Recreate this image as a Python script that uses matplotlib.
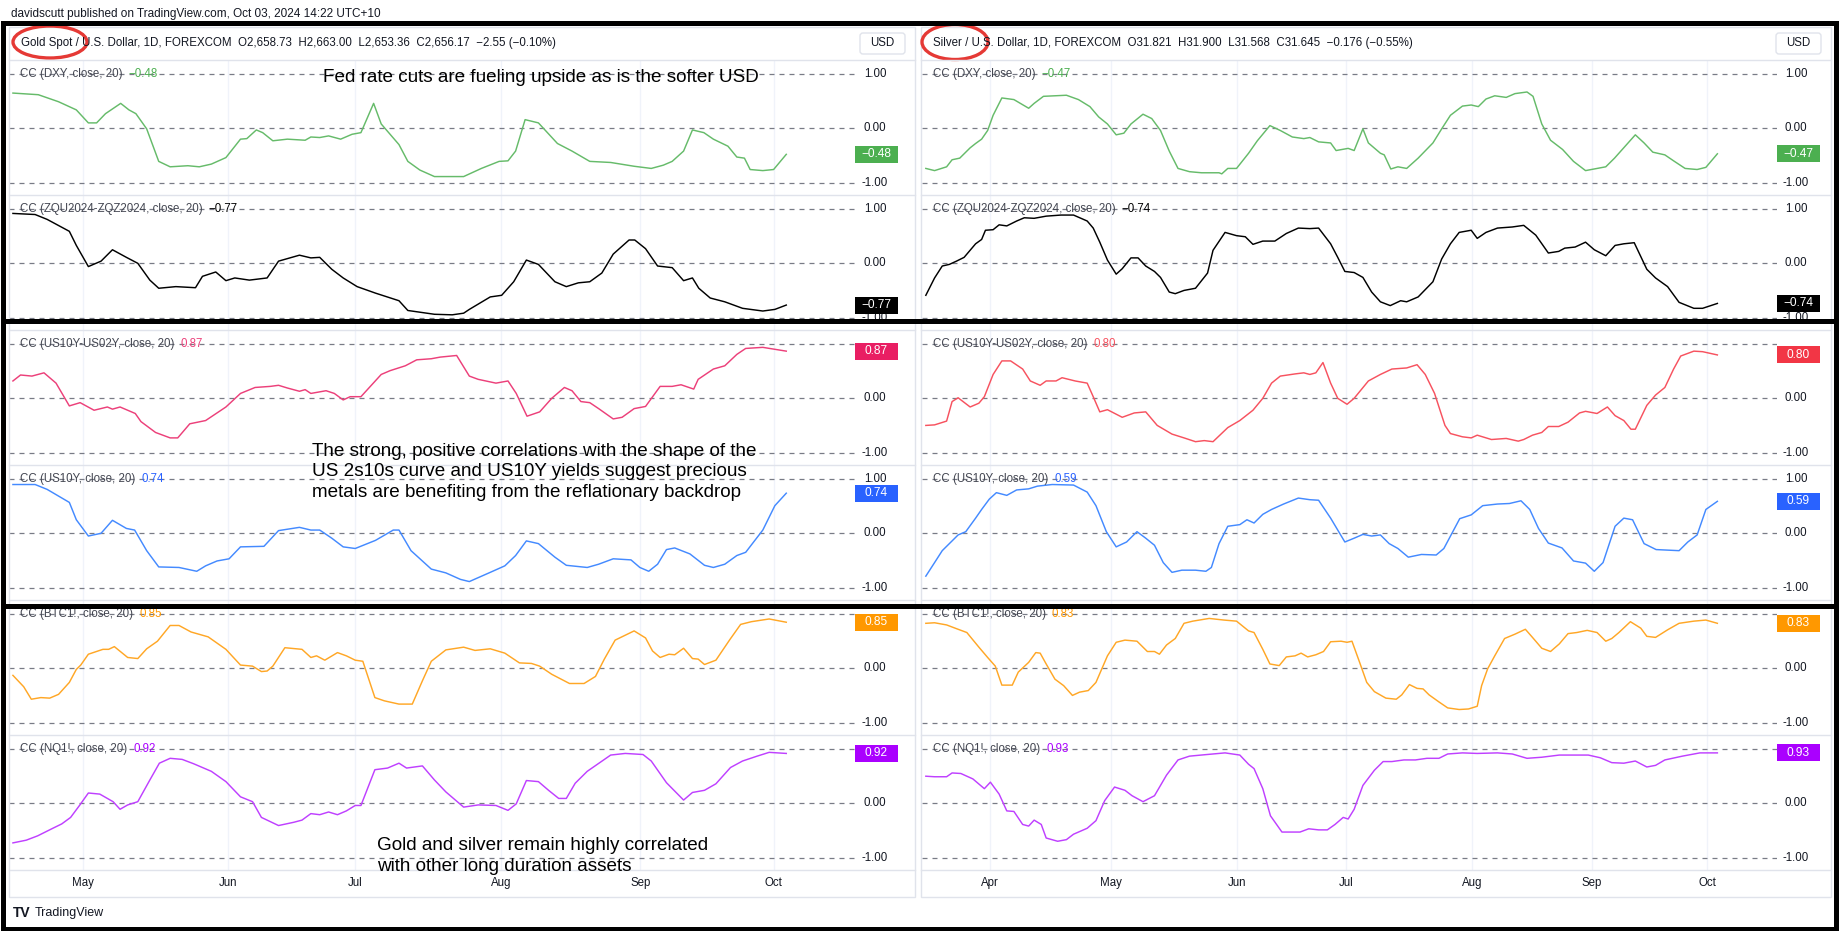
import numpy as np
import pandas as pd
import matplotlib.pyplot as plt
from matplotlib.patches import Rectangle, Ellipse, FancyBboxPatch
from matplotlib.transforms import blended_transform_factory

plt.rcParams['font.family'] = ['Liberation Sans', 'DejaVu Sans']

W, H = 1839, 931

# ---- data: (session index, correlation) ----
gold_dxy = [(0, 0.65), (4, 0.62), (7.2, 0.49), (10, 0.34), (11.9, 0.10), (13.2, 0.10), (14.6, 0.27), (17, 0.46),
            (18.3, 0.34), (19.4, 0.27), (21.1, -0.01), (23, -0.61), (24.8, -0.71), (27.6, -0.69), (29.4, -0.71),
            (31.3, -0.66), (33.6, -0.54), (35.9, -0.20), (36.9, -0.19), (38.4, -0.03), (39.4, -0.08), (41, -0.23),
            (43.3, -0.20), (46.1, -0.22), (47, -0.16), (48.4, -0.17), (49.8, -0.14), (51.7, -0.20), (53.5, -0.11),
            (54.9, -0.08), (56.9, 0.46), (58.1, 0.08), (60.9, -0.30), (62.3, -0.61), (64.2, -0.77), (66.5, -0.89),
            (68.3, -0.89), (71.1, -0.89), (73.9, -0.74), (76.7, -0.61), (78.1, -0.60), (79.3, -0.42), (80.8, 0.16),
            (82.9, 0.10), (85.9, -0.28), (88.2, -0.42), (91, -0.61), (94.3, -0.63), (98, -0.70), (100.7, -0.74),
            (102.6, -0.68), (104, -0.61), (105.8, -0.42), (107.2, -0.03), (109, -0.08), (110.5, -0.20),
            (112.8, -0.33), (114.2, -0.53), (115.4, -0.55), (116.3, -0.76), (118.3, -0.78), (120, -0.76), (122, -0.48)]
gold_zq = [(0, 0.92), (3.5, 0.90), (5.4, 0.81), (8.9, 0.59), (10, 0.33), (11.9, -0.06), (13.9, 0.04), (15.7, 0.25),
           (17.9, 0.11), (19.7, 0.00), (21.6, -0.31), (23, -0.46), (25.7, -0.43), (28.8, -0.45), (29.9, -0.24),
           (32, -0.16), (33.6, -0.32), (35, -0.27), (37.3, -0.31), (40.1, -0.27), (41.9, 0.04), (45.2, 0.15),
           (47, 0.10), (48.4, 0.11), (50.3, -0.11), (52.1, -0.27), (54.3, -0.43), (57.2, -0.55), (60.9, -0.69),
           (62.3, -0.87), (66.5, -0.94), (69.3, -0.95), (71.1, -0.92), (72, -0.85), (75.3, -0.62), (77.1, -0.59),
           (79, -0.34), (81, 0.06), (82.9, -0.02), (85.5, -0.34), (87.3, -0.43), (89.2, -0.36), (91, -0.34),
           (92.9, -0.18), (94.7, 0.17), (97.2, 0.43), (98.1, 0.43), (99.8, 0.27), (101.7, -0.05), (104, -0.08),
           (105.8, -0.32), (107.2, -0.27), (108.2, -0.46), (110, -0.64), (112.3, -0.71), (115.1, -0.83),
           (118.3, -0.88), (120.2, -0.85), (122, -0.77)]
gold_curve = [(0, 0.32), (1.2, 0.43), (3, 0.41), (4.9, 0.47), (6.8, 0.28), (8.9, -0.14), (10.6, -0.08), (12.8, -0.22),
              (14.9, -0.16), (15.7, -0.20), (16.9, -0.16), (19.3, -0.28), (20.2, -0.43), (22.5, -0.63), (24.8, -0.73),
              (26, -0.73), (27.9, -0.47), (30.4, -0.41), (33.6, -0.16), (35.9, 0.09), (38.2, 0.20), (40.6, 0.22),
              (41.9, 0.24), (43.3, 0.19), (45.2, 0.13), (46.1, 0.16), (47, 0.09), (49.4, 0.14), (50.7, 0.09),
              (52.1, -0.03), (53.2, 0.03), (54.9, 0.03), (58.1, 0.44), (59.5, 0.51), (61.9, 0.60), (63.7, 0.71),
              (66, 0.73), (67.4, 0.76), (70, 0.79), (72, 0.41), (73.4, 0.35), (76.2, 0.28), (78.1, 0.32), (79.4, 0.09),
              (81.1, -0.33), (83.1, -0.25), (85, 0.00), (87, 0.20), (88.2, 0.14), (89.6, -0.06), (91, -0.08),
              (92.4, -0.19), (94.7, -0.38), (96.1, -0.35), (98, -0.19), (99.8, -0.15), (102.1, 0.22), (104, 0.22),
              (105.4, 0.25), (107.4, 0.17), (108.1, 0.35), (110.5, 0.54), (112.3, 0.60), (114.2, 0.81),
              (115.6, 0.92), (118.3, 0.94), (122, 0.87)]
gold_us10y = [(0, 0.90), (3.5, 0.90), (5.4, 0.81), (8.9, 0.57), (10, 0.25), (11.9, -0.05), (13.9, 0.00), (15.7, 0.24),
              (17.9, 0.09), (19.2, 0.06), (21.1, -0.32), (23, -0.62), (26.2, -0.63), (29, -0.70), (30.4, -0.60),
              (32.2, -0.51), (34.1, -0.47), (35.9, -0.25), (39.6, -0.24), (41.9, 0.05), (45.2, 0.11), (47, 0.06),
              (48.4, 0.06), (50.3, -0.09), (52.1, -0.25), (54, -0.28), (57.2, -0.13), (60, 0.06), (60.9, 0.06),
              (62.8, -0.32), (66, -0.66), (68.3, -0.73), (70.6, -0.85), (72, -0.89), (75.3, -0.72), (77.6, -0.60),
              (79.3, -0.41), (81, -0.14), (82.9, -0.19), (85.5, -0.44), (87.3, -0.59), (90.6, -0.63), (92.4, -0.57),
              (94.7, -0.47), (97.5, -0.49), (98.9, -0.63), (100.3, -0.70), (101.7, -0.57), (103.1, -0.30),
              (104.4, -0.27), (106.8, -0.38), (109.1, -0.59), (110.5, -0.63), (112.3, -0.57), (114.2, -0.41),
              (115.6, -0.35), (118.3, 0.06), (120.2, 0.51), (122, 0.74)]
gold_btc = [(0, -0.13), (1.7, -0.34), (2.9, -0.57), (4.4, -0.54), (5.8, -0.55), (7.2, -0.48), (8.9, -0.26), (10, -0.02),
            (10.7, 0.06), (11.9, 0.26), (14.2, 0.35), (15.1, 0.35), (16, 0.40), (18.1, 0.20), (19.7, 0.18), (21.1, 0.36),
            (22.8, 0.50), (24.8, 0.79), (26.2, 0.79), (28.1, 0.67), (30.8, 0.58), (33.6, 0.35), (35.9, 0.06),
            (37.8, 0.04), (39.2, -0.06), (40.1, -0.05), (41, 0.04), (42.9, 0.38), (45.6, 0.35), (47, 0.20),
            (47.9, 0.23), (49.2, 0.15), (51.2, 0.29), (52.6, 0.23), (54, 0.15), (55.2, 0.13), (57.1, -0.54),
            (58.6, -0.60), (60.9, -0.66), (63, -0.66), (64.6, -0.23), (66, 0.13), (68.3, 0.34), (71.1, 0.39),
            (72.9, 0.33), (75.3, 0.36), (77.6, 0.28), (79.9, 0.10), (81.8, 0.09), (83.1, 0.04), (85, -0.11),
            (87.8, -0.28), (90.1, -0.28), (91.9, -0.15), (93.3, 0.17), (95, 0.52), (98, 0.69), (99.8, 0.56),
            (100.9, 0.32), (102.1, 0.20), (103.5, 0.26), (104.4, 0.25), (105.8, 0.37), (107.2, 0.18), (108.1, 0.17),
            (109.1, 0.07), (110.9, 0.15), (113.1, 0.53), (114.8, 0.81), (116.5, 0.86), (119.3, 0.91), (122, 0.85)]
gold_nq = [(0, -0.73), (2.1, -0.68), (3.9, -0.60), (6.3, -0.46), (7.7, -0.38), (9.1, -0.26), (10.5, -0.04), (11.9, 0.19),
           (13.7, 0.17), (15.8, 0.03), (16.9, -0.11), (18.1, -0.03), (19.7, 0.03), (21.6, 0.43), (23.1, 0.74),
           (24.8, 0.83), (26.7, 0.81), (28.5, 0.73), (31.3, 0.59), (33.6, 0.40), (35.9, 0.12), (37.8, 0.03),
           (39.2, -0.26), (41.9, -0.41), (44.3, -0.35), (45.6, -0.31), (47, -0.19), (48.4, -0.21), (49.8, -0.16),
           (51.2, -0.21), (52.6, -0.14), (54, -0.04), (54.9, -0.04), (57.1, 0.62), (59.1, 0.65), (60.9, 0.74),
           (62.1, 0.65), (64.6, 0.69), (66.5, 0.43), (68.3, 0.21), (71.1, -0.07), (73.4, -0.03), (76.2, -0.04),
           (78.1, -0.13), (79.4, -0.01), (81, 0.42), (82.9, 0.40), (84.5, 0.24), (86.1, 0.09), (87.3, 0.09),
           (88.7, 0.37), (90.6, 0.59), (94.3, 0.89), (96.6, 0.92), (99.4, 0.90), (100.7, 0.78), (103.1, 0.38),
           (105.8, 0.06), (107.2, 0.20), (109.1, 0.24), (110.9, 0.36), (113.2, 0.66), (115.1, 0.78), (117.4, 0.87),
           (119.3, 0.94), (122, 0.92)]

silver_dxy = [(0.2, -0.74), (1.8, -0.78), (4, -0.71), (5, -0.58), (6.4, -0.55), (8.3, -0.36), (9.3, -0.28), (10.4, -0.20),
              (11.5, -0.04), (12.5, 0.24), (14.1, 0.56), (16.3, 0.53), (19, 0.37), (20, 0.46), (21.7, 0.59), (25.9, 0.61),
              (28.1, 0.53), (30.2, 0.40), (31.8, 0.21), (33.4, 0.08), (35, -0.12), (36.4, -0.09), (37.7, 0.08),
              (39.9, 0.26), (41.5, 0.18), (43.1, -0.04), (44.7, -0.42), (46.3, -0.74), (48.4, -0.80), (50.6, -0.82),
              (53.8, -0.82), (54.3, -0.84), (55.4, -0.74), (57, -0.74), (59.2, -0.46), (60.8, -0.23), (63.1, 0.05),
              (65, -0.04), (67.2, -0.16), (69.3, -0.19), (70.4, -0.17), (72, -0.25), (74.2, -0.27), (75.2, -0.41),
              (76.3, -0.39), (77.4, -0.37), (78.5, -0.41), (80.1, -0.01), (81.1, -0.27), (83.3, -0.46), (84, -0.49),
              (85.2, -0.75), (86.5, -0.71), (88.1, -0.74), (90.2, -0.55), (92.9, -0.27), (94.5, -0.01), (96.1, 0.24),
              (98.3, 0.41), (99.9, 0.43), (101.2, 0.40), (102.6, 0.54), (104.2, 0.60), (106.3, 0.57), (107.9, 0.64),
              (110.1, 0.67), (111.2, 0.59), (112.8, 0.08), (114.4, -0.22), (116.6, -0.39), (118.6, -0.61),
              (120.8, -0.78), (124.5, -0.71), (126.1, -0.55), (129.9, -0.12), (131.5, -0.27), (133.1, -0.44),
              (135.3, -0.49), (136.9, -0.60), (139, -0.74), (141.2, -0.76), (142.8, -0.72), (144.9, -0.47)]
silver_zq = [(0.2, -0.59), (1.8, -0.27), (3.2, -0.05), (4.5, -0.02), (5.8, 0.04), (7.2, 0.11), (9.3, 0.36), (10.4, 0.44),
             (11.1, 0.61), (12.5, 0.62), (13.6, 0.71), (15, 0.69), (16.8, 0.78), (18.2, 0.84), (20, 0.83), (22.2, 0.87),
             (24.9, 0.89), (27.2, 0.89), (29.7, 0.78), (30.8, 0.65), (32, 0.39), (33.4, 0.06), (35, -0.20), (36.1, -0.10),
             (37.7, 0.10), (39, 0.10), (40.4, -0.05), (42, -0.15), (43.1, -0.26), (44.7, -0.53), (45.8, -0.56),
             (47.4, -0.50), (49.5, -0.46), (51.7, -0.18), (52.7, 0.24), (54.9, 0.57), (57, 0.51), (58.6, 0.49),
             (60, 0.35), (61.8, 0.41), (64, 0.41), (66.1, 0.55), (68.3, 0.65), (70.4, 0.64), (72, 0.65), (74.2, 0.36),
             (75.5, 0.11), (76.8, -0.15), (78.5, -0.17), (80.1, -0.26), (81.7, -0.53), (83.3, -0.71), (85.1, -0.78),
             (87, -0.69), (88.1, -0.71), (90.2, -0.62), (92.9, -0.34), (94.5, 0.08), (96.1, 0.36), (97.7, 0.57),
             (99.9, 0.61), (101, 0.46), (102.6, 0.57), (104.7, 0.65), (107.4, 0.67), (109.5, 0.70), (111.7, 0.52),
             (114, 0.19), (115.9, 0.22), (117, 0.28), (118.9, 0.30), (120.8, 0.39), (122.4, 0.25), (124.5, 0.14),
             (126.2, 0.33), (127.8, 0.36), (129.7, 0.38), (132, -0.11), (133.6, -0.27), (135.8, -0.43), (137.9, -0.72),
             (140.6, -0.83), (142.2, -0.83), (144.9, -0.74)]
silver_curve = [(0.2, -0.50), (1.8, -0.49), (4, -0.42), (5, -0.06), (6.1, 0.01), (8.3, -0.16), (9.9, -0.09), (10.9, 0.03),
                (12.5, 0.44), (14.1, 0.69), (15.7, 0.69), (17.9, 0.54), (19.3, 0.32), (21.1, 0.24), (22.2, 0.32),
                (24, 0.32), (25.1, 0.38), (27.5, 0.32), (29.7, 0.28), (30.8, 0.03), (32, -0.25), (33.4, -0.21),
                (36.1, -0.35), (38.3, -0.27), (40.4, -0.25), (42.5, -0.50), (45.2, -0.66), (47.4, -0.73), (49.5, -0.80),
                (51.1, -0.78), (52.7, -0.80), (55.4, -0.54), (57.6, -0.41), (60, -0.22), (61.8, 0.00), (63.4, 0.28),
                (65, 0.41), (67.7, 0.45), (69.3, 0.47), (70.4, 0.44), (71.5, 0.47), (72.8, 0.66), (74.2, 0.28),
                (75.5, 0.00), (77.2, -0.11), (78.5, 0.00), (81.1, 0.32), (83.3, 0.44), (85.4, 0.54), (88.1, 0.56),
                (90, 0.62), (91.5, 0.44), (93.2, 0.09), (95.1, -0.50), (96.1, -0.65), (98.3, -0.71), (99.9, -0.73),
                (101, -0.68), (103.6, -0.76), (106.3, -0.74), (108.5, -0.79), (109.5, -0.76), (111.1, -0.68),
                (112.8, -0.63), (114, -0.52), (115.9, -0.52), (117.6, -0.44), (119.7, -0.27), (120.8, -0.24),
                (122.9, -0.28), (124.8, -0.16), (126.2, -0.32), (127.8, -0.41), (129.1, -0.57), (129.9, -0.57),
                (132, -0.13), (133.6, 0.06), (135.3, 0.20), (136.9, 0.54), (138.2, 0.78), (140.6, 0.87), (142.2, 0.86),
                (144.9, 0.80)]
silver_us10y = [(0.2, -0.79), (1.8, -0.54), (3.2, -0.32), (4.5, -0.19), (6.1, -0.03), (7.5, 0.03), (9.3, 0.28), (10.4, 0.44),
                (11.8, 0.63), (13.1, 0.75), (15, 0.70), (16.8, 0.80), (19, 0.82), (20.6, 0.87), (23.3, 0.90), (27.2, 0.89),
                (29.7, 0.76), (31.3, 0.51), (33.2, 0.03), (35, -0.25), (36.9, -0.16), (38.8, 0.03), (40.4, -0.09),
                (42, -0.22), (43.6, -0.54), (45.2, -0.72), (47, -0.68), (49.5, -0.68), (51.4, -0.70), (52.4, -0.63),
                (53.8, -0.19), (55.4, 0.13), (57.6, 0.16), (58.9, 0.25), (60.2, 0.19), (61.8, 0.35), (63.4, 0.44),
                (65.6, 0.54), (68.3, 0.65), (70.4, 0.62), (72, 0.61), (74.2, 0.28), (75.5, 0.06), (76.8, -0.16),
                (78.5, -0.09), (80.1, -0.02), (81.7, -0.05), (83.3, -0.03), (84.9, -0.19), (86.5, -0.28), (88.4, -0.44),
                (90.8, -0.39), (93.5, -0.40), (94.9, -0.28), (97.8, 0.27), (99.9, 0.34), (102, 0.51), (104.7, 0.54),
                (106.9, 0.55), (109, 0.60), (110.6, 0.44), (112.2, 0.09), (114, -0.18), (116.5, -0.27), (118.6, -0.51),
                (120.8, -0.55), (122.4, -0.70), (124, -0.54), (126.2, 0.13), (127.8, 0.28), (129.4, 0.25), (131.5, -0.19),
                (133.7, -0.30), (137.9, -0.32), (139.5, -0.16), (141.2, -0.03), (142.8, 0.44), (144.9, 0.59)]
silver_btc = [(0.2, 0.83), (1.8, 0.84), (4, 0.80), (6.1, 0.72), (7.7, 0.66), (9.9, 0.39), (11.5, 0.20), (12.9, 0.04),
              (14.1, -0.31), (16, -0.31), (17.1, -0.07), (19, 0.11), (20.3, 0.29), (21.1, 0.28), (22.2, 0.08),
              (23.8, -0.20), (25.4, -0.32), (27, -0.50), (28.3, -0.44), (29.9, -0.41), (31.3, -0.26), (33.4, 0.23),
              (35, 0.48), (36.6, 0.52), (38.8, 0.50), (40.7, 0.31), (42, 0.31), (42.9, 0.26), (44.2, 0.43), (45.8, 0.55),
              (47.4, 0.83), (49, 0.87), (52, 0.92), (54.7, 0.89), (57, 0.87), (59.2, 0.69), (60.2, 0.66), (61.8, 0.35),
              (63.1, 0.08), (64.8, 0.05), (66.1, 0.21), (67.7, 0.23), (68.8, 0.28), (70, 0.21), (71.5, 0.25),
              (72.9, 0.31), (74.2, 0.49), (76.1, 0.50), (77.2, 0.48), (78.1, 0.50), (79.5, 0.11), (80.8, -0.26),
              (82.2, -0.43), (84.3, -0.55), (86.2, -0.57), (87.2, -0.49), (88.6, -0.30), (90, -0.37), (91.1, -0.38),
              (92.2, -0.49), (94, -0.62), (95.6, -0.73), (97.7, -0.76), (99.4, -0.75), (101, -0.70), (101.8, -0.32),
              (102.9, -0.01), (104.2, 0.23), (106, 0.55), (107.9, 0.63), (109.8, 0.72), (111.1, 0.57), (112.8, 0.37),
              (114.4, 0.31), (116, 0.45), (117.6, 0.64), (119.2, 0.66), (121.1, 0.70), (122.9, 0.66), (124.5, 0.50),
              (125.6, 0.55), (126.9, 0.66), (129, 0.86), (130.9, 0.74), (132, 0.59), (133.6, 0.57), (135.8, 0.71),
              (137.9, 0.83), (140.6, 0.87), (142.8, 0.89), (144.9, 0.83)]
silver_nq = [(0.2, 0.50), (1.8, 0.49), (4, 0.49), (5, 0.56), (6.6, 0.55), (8.8, 0.45), (10.9, 0.27), (12, 0.39), (13.6, 0.17),
             (15, -0.14), (16.3, -0.15), (17.9, -0.39), (19, -0.42), (20, -0.31), (21.3, -0.39), (22.2, -0.64),
             (24.3, -0.70), (25.9, -0.67), (27.2, -0.57), (29.7, -0.46), (31.3, -0.32), (32.9, 0.05), (34.7, 0.30),
             (36.6, 0.24), (37.9, 0.14), (39.9, 0.03), (42, 0.14), (44.2, 0.52), (46.3, 0.80), (48.4, 0.87),
             (51.6, 0.90), (54.9, 0.93), (57.6, 0.89), (59.2, 0.72), (60.2, 0.64), (61.8, 0.27), (63.2, -0.23),
             (65.3, -0.53), (68.6, -0.53), (70.2, -0.47), (72, -0.49), (73.6, -0.49), (75, -0.39), (76.5, -0.26),
             (77.4, -0.29), (78.5, -0.11), (80.1, 0.33), (82.2, 0.61), (83.8, 0.77), (85.4, 0.77), (87.6, 0.80),
             (89.7, 0.80), (91.8, 0.83), (94, 0.83), (95.6, 0.91), (98.3, 0.93), (101, 0.92), (104.7, 0.93),
             (107.4, 0.91), (110.1, 0.83), (112.8, 0.85), (116, 0.89), (121.3, 0.89), (123.5, 0.84), (125.6, 0.75),
             (127.8, 0.74), (129.9, 0.78), (132, 0.67), (133.6, 0.70), (135.3, 0.80), (138.5, 0.87), (141.7, 0.93),
             (144.9, 0.93)]

pane_labels = ['CC (DXY, close, 20)', 'CC (ZQU2024-ZQZ2024, close, 20)', 'CC (US10Y-US02Y, close, 20)',
               'CC (US10Y, close, 20)', 'CC (BTC1!, close, 20)', 'CC (NQ1!, close, 20)']
gold_last = ['\u22120.48', '\u22120.77', '0.87', '0.74', '0.85', '0.92']
silver_last = ['\u22120.47', '\u22120.74', '0.80', '0.59', '0.83', '0.93']
line_colors = ['#66bb6a', '#000000', '#ec407a', '#448aff', '#ffa726', '#bf40ff']
box_colors = ['#4caf50', '#000000', '#e91e63', '#2962ff', '#ff9800', '#aa00ff']
silver_line_colors = ['#66bb6a', '#000000', '#f7525f', '#448aff', '#ffa726', '#bf40ff']
silver_box_colors = ['#4caf50', '#000000', '#f23645', '#2962ff', '#ff9800', '#aa00ff']
price_ticks = [1.0, 0.0, -1.0]
price_tick_labels = ['1.00', '0.00', '-1.00']

gold_header = 'Gold Spot / U.S. Dollar, 1D, FOREXCOM  O2,658.73  H2,663.00  L2,653.36  C2,656.17  \u22122.55 (\u22120.10%)'
silver_header = 'Silver / U.S. Dollar, 1D, FOREXCOM  O31.821  H31.900  L31.568  C31.645  \u22120.176 (\u22120.55%)'

fig = plt.figure(figsize=(W / 100, H / 100), dpi=100)
fig.patch.set_facecolor('white')

TEXT = '#131722'
PANE_TOP, PANE_H = 60, 135
YLIM = (-1.23, 1.26)


def px_axes(x0, top, w, h):
    return fig.add_axes([x0 / W, 1 - (top + h) / H, w / W, h / H])


charts = [
    dict(x0=9, x1=856, start='2024-04-16', xlim=(-0.62, 133.0),
         data=[gold_dxy, gold_zq, gold_curve, gold_us10y, gold_btc, gold_nq],
         last=gold_last, lc=line_colors, bc=box_colors, box_off=-1),
    dict(x0=922, x1=1777, start='2024-03-14', xlim=(-0.5, 155.8),
         data=[silver_dxy, silver_zq, silver_curve, silver_us10y, silver_btc, silver_nq],
         last=silver_last, lc=silver_line_colors, bc=silver_box_colors, box_off=0),
]

for c in charts:
    sessions = pd.bdate_range(c['start'], '2024-10-03')
    month_idx = [i for i in range(1, len(sessions)) if sessions[i].month != sessions[i - 1].month]
    month_lbl = [sessions[i].strftime('%b') for i in month_idx]
    aw = c['x1'] - c['x0']
    unit = PANE_H / (YLIM[1] - YLIM[0])
    for i in range(6):
        ax = px_axes(c['x0'], PANE_TOP + PANE_H * i, aw, PANE_H)
        ax.set_xlim(*c['xlim'])
        ax.set_ylim(*YLIM)
        for s in ax.spines.values():
            s.set_visible(False)
        ax.set_yticks([])
        ax.set_xticks([])
        for b in month_idx:
            ax.axvline(b, color='#f0f3fa', lw=1, zorder=0)
        for v in price_ticks:
            ax.axhline(v, color='#787b86', lw=0.9, ls=(0, (4, 4)), zorder=1)
        xs, ys = zip(*c['data'][i])
        ax.plot(xs, ys, color=c['lc'][i], lw=1.05, zorder=3, solid_joinstyle='round')

        lab = ax.annotate(pane_labels[i], xy=(0, 1.0), xycoords=('axes fraction', 'data'),
                          xytext=(11, 0), textcoords='offset pixels', va='center', ha='left',
                          fontsize=8.3, color='#434651', zorder=4)
        ax.annotate(c['last'][i], xy=(1, 0.5), xycoords=lab, xytext=(6, 0), textcoords='offset pixels',
                    va='center', ha='left', fontsize=8.3, color=c['bc'][i] if i != 2 else c['lc'][i], zorder=4)

        last_v = ys[-1]
        for v, t in zip(price_ticks, price_tick_labels):
            # the last-value box sits over the scale label it covers, as on the chart
            if abs(v - last_v) < 0.2:
                continue
            ax.annotate(t, xy=(1, v), xycoords=('axes fraction', 'data'), xytext=(19, 0),
                        textcoords='offset pixels', ha='center', va='center', fontsize=8.3,
                        color=TEXT, annotation_clip=False)
        tr = blended_transform_factory(ax.transAxes, ax.transData)
        ax.add_patch(Rectangle((1 + c['box_off'] / aw, last_v - 8.5 / unit), 43 / aw, 17 / unit,
                               transform=tr, facecolor=c['bc'][i], edgecolor='none',
                               clip_on=False, zorder=6))
        ax.annotate(c['last'][i], xy=(1, last_v), xycoords=('axes fraction', 'data'),
                    xytext=(c['box_off'] + 21.5, 0), textcoords='offset pixels', ha='center', va='center',
                    fontsize=8.6, color='white', zorder=7, annotation_clip=False)
        if i == 5:
            ax.set_xticks(month_idx, month_lbl)
            ax.tick_params(axis='x', length=0, pad=5, labelsize=8.3, labelcolor=TEXT)

# ---- overlay for frame, headers and notes (pixel coordinates) ----
ov = fig.add_axes([0, 0, 1, 1], zorder=10)
ov.set_xlim(0, W)
ov.set_ylim(H, 0)
ov.axis('off')
ov.patch.set_alpha(0)

ov.text(11, 14, 'davidscutt published on TradingView.com, Oct 03, 2024 14:22 UTC+10',
        fontsize=8.5, color=TEXT, va='center', ha='left')

sep = '#e0e3eb'
for x0, x1 in [(9, 915), (921, 1831)]:
    ov.add_patch(Rectangle((x0, 27), x1 - x0, 870, fill=False, edgecolor=sep, lw=1))
    for k in range(0, 7):
        ov.plot([x0, x1], [PANE_TOP + PANE_H * k] * 2, color=sep, lw=1)
    ov.add_patch(FancyBboxPatch((x1 - 55, 33), 45, 21, boxstyle='round,pad=0,rounding_size=3',
                                facecolor='white', edgecolor=sep, lw=1))
    ov.text(x1 - 32.5, 43.5, 'USD', fontsize=8.3, color=TEXT, ha='center', va='center')

ov.text(21, 43, gold_header, fontsize=8.3, color=TEXT, va='center', ha='left')
ov.text(933, 43, silver_header, fontsize=8.3, color=TEXT, va='center', ha='left')

ov.add_patch(Ellipse((50, 42), 74, 32, fill=False, edgecolor='#e53935', lw=2.4))
ov.add_patch(Ellipse((955, 42), 66, 35, fill=False, edgecolor='#e53935', lw=2.4))

# black frames drawn by the author
for top, bot in [(23, 320.5), (320.5, 605.5), (605.5, 928.5)]:
    ov.add_patch(Rectangle((3.5, top), 1833, bot - top, fill=False, edgecolor='black', lw=3.6))

note_kw = dict(fontsize=13.6, color='black', ha='left', va='center', linespacing=1.3)
ov.text(323, 77, 'Fed rate cuts are fueling upside as is the softer USD', **note_kw)
ov.text(312, 472, 'The strong, positive correlations with the shape of the\n'
                  'US 2s10s curve and US10Y yields suggest precious\n'
                  'metals are benefiting from the reflationary backdrop', **note_kw)
ov.text(377, 856, 'Gold and silver remain highly correlated\nwith other long duration assets', **note_kw)

ov.text(13, 913, 'TV', fontsize=10, fontweight='bold', color=TEXT, va='center', ha='left')
ov.text(35, 913, 'TradingView', fontsize=9, color=TEXT, va='center', ha='left')

fig.savefig('out.png', dpi=100)
